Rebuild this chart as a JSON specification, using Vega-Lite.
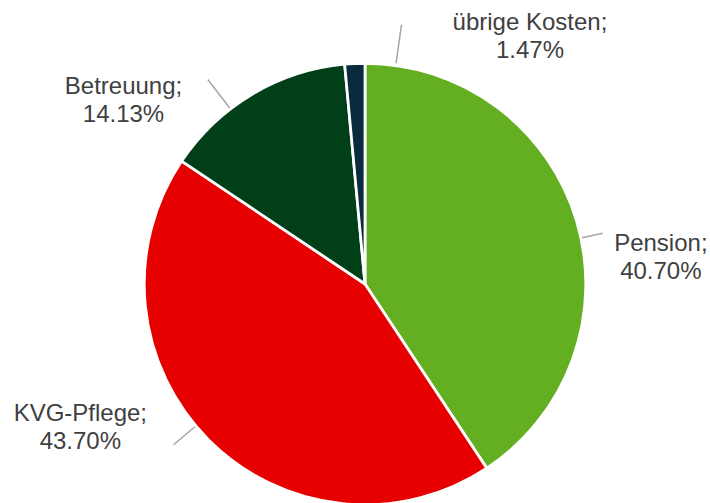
{
  "$schema": "https://vega.github.io/schema/vega-lite/v6.json",
  "autosize": {"type": "none"},
  "width": 440,
  "height": 438,
  "padding": {"left": 145, "top": 65, "right": 125, "bottom": 0},
  "background": "#ffffff",
  "view": {"stroke": null},
  "config": {"font": "Liberation Sans"},
  "data": {
    "values": [
      {"category": "Pension", "value": 40.70, "rank": 1, "label": "Pension;\n40.70%"},
      {"category": "KVG-Pflege", "value": 43.70, "rank": 2, "label": "KVG-Pflege;\n43.70%"},
      {"category": "Betreuung", "value": 14.13, "rank": 3, "label": "Betreuung;\n14.13%"},
      {"category": "übrige Kosten", "value": 1.47, "rank": 4, "label": "übrige Kosten;\n1.47%"}
    ]
  },
  "transform": [
    {"stack": "value", "groupby": [], "sort": [{"field": "rank", "order": "ascending"}], "as": ["v0", "v1"]},
    {"calculate": "(datum.v0 + datum.v1) / 2", "as": "mid"}
  ],
  "layer": [
    {
      "mark": {"type": "arc", "radius": 220.75, "stroke": "#ffffff", "strokeWidth": 2.75},
      "encoding": {
        "theta": {"field": "v0", "type": "quantitative", "scale": {"domain": [0, 100], "range": [0, 6.283185307179586]}},
        "theta2": {"field": "v1"},
        "color": {
          "field": "category", "type": "nominal", "legend": null,
          "scale": {"domain": ["Pension", "KVG-Pflege", "Betreuung", "übrige Kosten"], "range": ["#63AE21", "#E60000", "#003F17", "#0A2A3E"]}
        }
      }
    },
    {
      "transform": [{"filter": "datum.category == 'Pension'"}],
      "layer": [
        {"mark": {"type": "arc", "radius": 243, "radius2": 222, "thetaOffset": 0.082, "theta2Offset": 0.082, "fillOpacity": 0, "stroke": "#A6A6A6", "strokeWidth": 1.5},
         "encoding": {"theta": {"field": "mid", "type": "quantitative", "scale": {"domain": [0, 100], "range": [0, 6.283185307179586]}}, "theta2": {"field": "mid"}}},
        {"mark": {"type": "text", "radius": 297, "thetaOffset": 0.2046, "dy": -14, "fontSize": 24, "lineHeight": 28, "color": "#404040", "align": "center", "baseline": "middle", "lineBreak": "\n"},
         "encoding": {"theta": {"field": "mid", "type": "quantitative", "scale": {"domain": [0, 100], "range": [0, 6.283185307179586]}}, "text": {"field": "label"}}}
      ]
    },
    {
      "transform": [{"filter": "datum.category == 'KVG-Pflege'"}],
      "layer": [
        {"mark": {"type": "arc", "radius": 250, "radius2": 222, "thetaOffset": 0.084, "theta2Offset": 0.084, "fillOpacity": 0, "stroke": "#A6A6A6", "strokeWidth": 1.5},
         "encoding": {"theta": {"field": "mid", "type": "quantitative", "scale": {"domain": [0, 100], "range": [0, 6.283185307179586]}}, "theta2": {"field": "mid"}}},
        {"mark": {"type": "text", "radius": 319, "thetaOffset": 0.314, "dy": -14, "fontSize": 24, "lineHeight": 28, "color": "#404040", "align": "center", "baseline": "middle", "lineBreak": "\n"},
         "encoding": {"theta": {"field": "mid", "type": "quantitative", "scale": {"domain": [0, 100], "range": [0, 6.283185307179586]}}, "text": {"field": "label"}}}
      ]
    },
    {
      "transform": [{"filter": "datum.category == 'Betreuung'"}],
      "layer": [
        {"mark": {"type": "arc", "radius": 258, "radius2": 222, "thetaOffset": -0.119, "theta2Offset": -0.119, "fillOpacity": 0, "stroke": "#A6A6A6", "strokeWidth": 1.5},
         "encoding": {"theta": {"field": "mid", "type": "quantitative", "scale": {"domain": [0, 100], "range": [0, 6.283185307179586]}}, "theta2": {"field": "mid"}}},
        {"mark": {"type": "text", "radius": 303, "thetaOffset": -0.386, "dy": -14, "fontSize": 24, "lineHeight": 28, "color": "#404040", "align": "center", "baseline": "middle", "lineBreak": "\n"},
         "encoding": {"theta": {"field": "mid", "type": "quantitative", "scale": {"domain": [0, 100], "range": [0, 6.283185307179586]}}, "text": {"field": "label"}}}
      ]
    },
    {
      "transform": [{"filter": "datum.category == 'übrige Kosten'"}],
      "layer": [
        {"mark": {"type": "arc", "radius": 262, "radius2": 223, "thetaOffset": 0.186, "theta2Offset": 0.186, "fillOpacity": 0, "stroke": "#A6A6A6", "strokeWidth": 1.5},
         "encoding": {"theta": {"field": "mid", "type": "quantitative", "scale": {"domain": [0, 100], "range": [0, 6.283185307179586]}}, "theta2": {"field": "mid"}}},
        {"mark": {"type": "text", "radius": 297, "thetaOffset": 0.635, "dy": -14, "fontSize": 24, "lineHeight": 28, "color": "#404040", "align": "center", "baseline": "middle", "lineBreak": "\n"},
         "encoding": {"theta": {"field": "mid", "type": "quantitative", "scale": {"domain": [0, 100], "range": [0, 6.283185307179586]}}, "text": {"field": "label"}}}
      ]
    }
  ]
}
